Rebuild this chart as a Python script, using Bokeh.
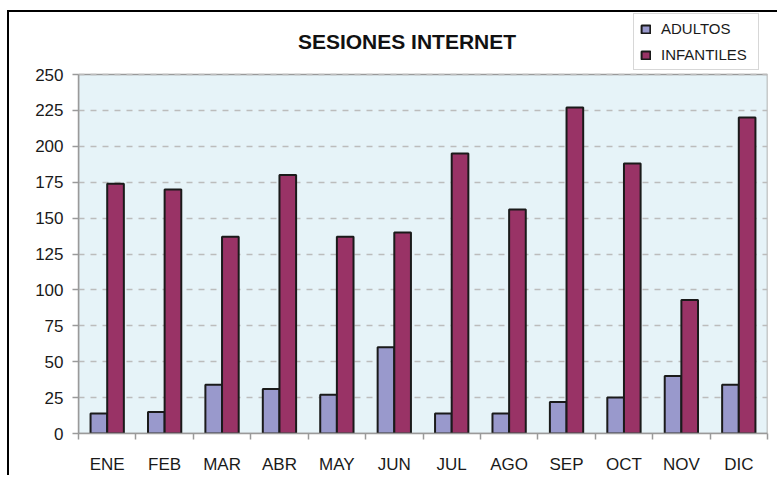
import numpy as np
from bokeh.plotting import figure
from bokeh.models import (ColumnDataSource, FixedTicker, Legend, LegendItem, Label, Range1d)
from bokeh.embed import file_html
from bokeh.resources import INLINE

months = ["ENE", "FEB", "MAR", "ABR", "MAY", "JUN", "JUL", "AGO", "SEP", "OCT", "NOV", "DIC"]
adultos = [14, 15, 34, 31, 27, 60, 14, 14, 22, 25, 40, 34]
infantiles = [174, 170, 137, 180, 137, 140, 195, 156, 227, 188, 93, 220]
y_ticks = [0, 25, 50, 75, 100, 125, 150, 175, 200, 225, 250]
Y_MAX = 250
TITLE = "SESIONES INTERNET"

FONT = "Liberation Sans"
AXIS_GREY = "#9a9a9a"
idx = np.arange(len(months)) + 0.5
src = ColumnDataSource(dict(xa=idx - 0.145, xi=idx + 0.145, a=adultos, i=infantiles))

# frame: extra headroom above 250 so title and legend fit inside the frame
PX_PER_UNIT = 359 / Y_MAX
y_top = Y_MAX + 62 / PX_PER_UNIT

p = figure(width=770, height=465, output_backend="svg", toolbar_location=None,
           x_range=Range1d(0, len(months)), y_range=Range1d(0, y_top),
           min_border_left=69, min_border_top=0, min_border_right=12, min_border_bottom=44)
p.styles = {"margin-left": "7px", "margin-top": "10px",
            "border-left": "2px solid black", "border-top": "2px solid black"}
p.background_fill_color = "white"
p.border_fill_color = "white"
p.outline_line_color = None

# plot-area background
p.quad(left=0, right=len(months), bottom=0, top=Y_MAX, fill_color="#E6F3F8",
       line_color=AXIS_GREY, line_width=1.5, level="image")

ra = p.vbar(x="xa", top="a", width=0.29, source=src, fill_color="#9999CC",
            line_color="#1a1a1a", line_width=2)
ri = p.vbar(x="xi", top="i", width=0.29, source=src, fill_color="#993366",
            line_color="#1a1a1a", line_width=2)

# x axis
p.xaxis.ticker = FixedTicker(ticks=list(idx), minor_ticks=list(range(0, len(months) + 1)))
p.xaxis.major_label_overrides = {float(x): m for x, m in zip(idx, months)}
p.xaxis.major_tick_line_color = None
p.xaxis.major_tick_out = 0
p.xaxis.major_tick_in = 0
p.xaxis.minor_tick_out = 6
p.xaxis.minor_tick_in = 0
p.xaxis.minor_tick_line_color = AXIS_GREY
p.xaxis.minor_tick_line_width = 1.5
p.xaxis.axis_line_color = AXIS_GREY
p.xaxis.axis_line_width = 1.5
p.xaxis.major_label_standoff = 15
p.xaxis.major_label_text_font = FONT
p.xaxis.major_label_text_font_size = "17px"
p.xaxis.major_label_text_color = "#1a1a1a"

# y axis
p.yaxis.ticker = FixedTicker(ticks=y_ticks)
p.yaxis.bounds = (0, Y_MAX)
p.yaxis.minor_tick_line_color = None
p.yaxis.major_tick_out = 6
p.yaxis.major_tick_in = 0
p.yaxis.major_tick_line_color = AXIS_GREY
p.yaxis.major_tick_line_width = 1.5
p.yaxis.axis_line_color = AXIS_GREY
p.yaxis.axis_line_width = 1.5
p.yaxis.major_label_standoff = 9
p.yaxis.major_label_text_font = FONT
p.yaxis.major_label_text_font_size = "17px"
p.yaxis.major_label_text_color = "#1a1a1a"

p.xgrid.grid_line_color = None
p.ygrid.grid_line_color = "#bcbcbc"
p.ygrid.grid_line_dash = "6 6"
p.ygrid.grid_line_width = 1.5

p.add_layout(Label(x=len(months) / 2, y=Y_MAX, x_offset=-16, y_offset=33,
                   text=TITLE, text_align="center", text_baseline="middle",
                   text_font=FONT, text_font_size="21px", text_font_style="bold",
                   text_color="#111111"))

legend = Legend(items=[LegendItem(label="ADULTOS", renderers=[ra]),
                       LegendItem(label="INFANTILES", renderers=[ri])],
                location=(555, 363), orientation="vertical",
                glyph_width=11, glyph_height=10, label_height=17, label_width=91,
                spacing=9, padding=6, margin=0, label_standoff=10,
                label_text_font=FONT, label_text_font_size="15px", label_text_color="#1a1a1a",
                border_line_color="#b0b0b0", border_line_width=1.5,
                background_fill_color="white", background_fill_alpha=1)
p.add_layout(legend)

open("out.html", "w").write(file_html(p, INLINE))
